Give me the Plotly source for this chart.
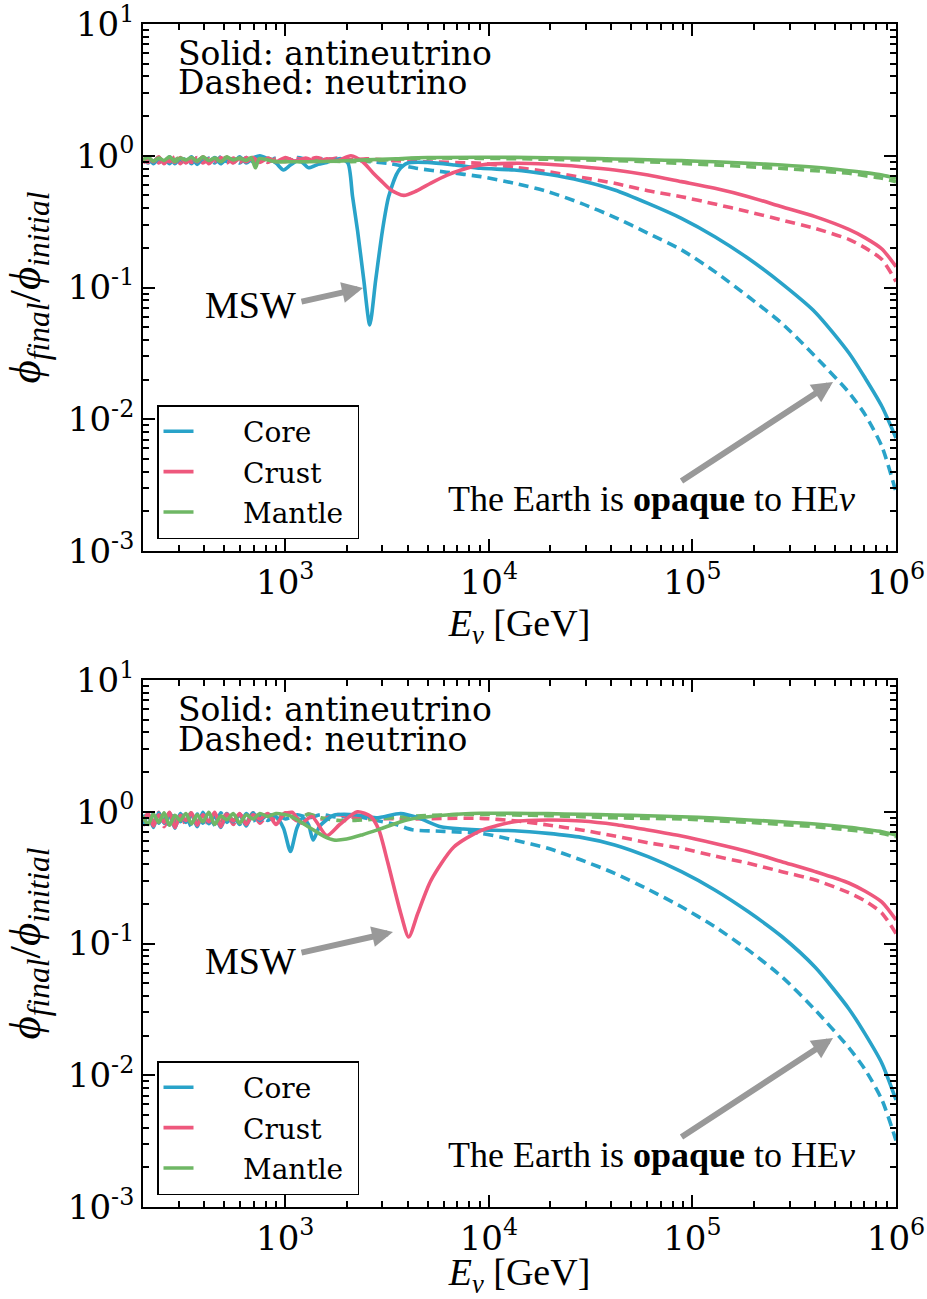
import math
import plotly.graph_objects as go

# ------------------------------------------------------------------
# Data
# ------------------------------------------------------------------
WIGGLE_E = [200, 212, 225, 239, 254, 270, 287, 305, 325, 346, 369, 394,
            421, 450, 482, 517, 555, 597, 643, 694, 750]
TAIL_E = [9140, 13330, 19500, 28440, 41500, 60500, 88300, 128800, 188400, 274800,
          400900, 586100, 706000, 853000, 1000000]

# ---- top panel ----
top_core_anti_E = WIGGLE_E + [820, 900, 980, 1060, 1170, 1300, 1450, 1600, 1870, 2030,
                              2140, 2265, 2430, 2600, 2780, 3000, 3220, 3600, 4000, 5000,
                              6800] + TAIL_E
top_core_anti = [0.90, 0.97, 0.87, 0.96, 0.88, 0.98, 0.87, 0.95, 0.89, 0.98, 0.86, 0.96,
                 0.90, 0.97, 0.87, 0.95, 0.89, 0.98, 0.88, 0.96, 1.00,
                 0.95, 0.88, 0.78, 0.85, 0.93, 0.81, 0.86, 0.89, 0.95, 0.88,
                 0.49, 0.27, 0.114, 0.052, 0.114, 0.27, 0.49, 0.77, 0.88, 0.89,
                 0.85,
                 0.803, 0.78, 0.723, 0.647, 0.55, 0.435, 0.335, 0.243, 0.166, 0.107,
                 0.0650, 0.0320, 0.0205, 0.0125, 0.0072]

top_core_nu_E = WIGGLE_E + [820, 900, 1000, 1150, 1300, 1500, 1800, 2200, 2700, 3300,
                            4480, 6200] + TAIL_E
top_core_nu = [0.95, 0.88, 0.97, 0.89, 0.96, 0.87, 0.97, 0.90, 0.95, 0.87, 0.97, 0.89,
               0.96, 0.88, 0.98, 0.90, 0.95, 0.88, 0.97, 0.90, 0.94,
               0.90, 0.96, 0.92, 0.97, 0.93, 0.95, 0.93, 0.92, 0.90, 0.87,
               0.80, 0.75,
               0.694, 0.618, 0.534, 0.435, 0.341, 0.258, 0.193, 0.132, 0.085, 0.0535,
               0.030, 0.0160, 0.0108, 0.0062, 0.0028]

top_crust_anti_E = WIGGLE_E + [820, 900, 1000, 1120, 1260, 1420, 1600, 1800, 2100, 2400,
                               2700, 2940, 3300, 3820, 4400, 5190, 6200, 7300] + TAIL_E
top_crust_anti = [0.88, 0.96, 0.90, 0.98, 0.87, 0.95, 0.89, 0.97, 0.88, 0.96, 0.90, 0.98,
                  0.87, 0.95, 0.91, 0.97, 0.88, 0.96, 0.90, 0.97, 0.89,
                  0.96, 0.90, 0.97, 0.91, 0.96, 0.90, 0.95, 0.92, 1.00, 0.90,
                  0.74, 0.65, 0.55, 0.50, 0.54, 0.62, 0.71, 0.78,
                  0.851, 0.876, 0.861, 0.826, 0.78, 0.714, 0.636, 0.566, 0.489, 0.41,
                  0.345, 0.276, 0.238, 0.196, 0.144]

top_crust_nu_E = WIGGLE_E + [820, 900, 1000, 1120, 1260, 1420, 1600, 1800, 2100, 2500,
                             3000, 4700] + TAIL_E
top_crust_nu = [0.96, 0.89, 0.97, 0.88, 0.95, 0.90, 0.98, 0.87, 0.96, 0.89, 0.97, 0.88,
                0.95, 0.90, 0.97, 0.88, 0.96, 0.89, 0.97, 0.90, 0.96,
                0.89, 0.95, 0.90, 0.96, 0.92, 0.97, 0.93, 0.96, 0.93, 0.95,
                0.93, 0.90,
                0.876, 0.817, 0.757, 0.686, 0.618, 0.543, 0.489, 0.43, 0.376, 0.325,
                0.281, 0.232, 0.200, 0.163, 0.111]

top_mantle_anti_E = WIGGLE_E[:19] + [680, 713, 745, 820, 900, 1000, 1300, 1800, 2500, 3500,
                                     5000] + TAIL_E
top_mantle_anti = [0.93, 0.97, 0.91, 0.96, 0.92, 0.98, 0.90, 0.96, 0.93, 0.97, 0.91, 0.98,
                   0.92, 0.96, 0.90, 0.97, 0.93, 0.96, 0.92,
                   0.97, 0.81, 0.95, 0.93, 0.90, 0.90, 0.90, 0.91, 0.93, 0.95,
                   0.97,
                   0.975, 0.972, 0.966, 0.956, 0.945, 0.932, 0.918, 0.90, 0.876, 0.85,
                   0.817, 0.77, 0.745, 0.714, 0.674]

top_mantle_nu_E = WIGGLE_E + [820, 900, 1000, 1200, 1500, 2000, 2500, 3500, 5000] + TAIL_E
top_mantle_nu = [0.90, 0.96, 0.92, 0.97, 0.89, 0.95, 0.93, 0.98, 0.90, 0.96, 0.92, 0.97,
                 0.89, 0.96, 0.93, 0.98, 0.90, 0.95, 0.92, 0.97, 0.93,
                 0.96, 0.91, 0.95, 0.90, 0.92, 0.90, 0.91, 0.94, 0.96,
                 0.955, 0.95, 0.94, 0.93, 0.918, 0.90, 0.876, 0.852, 0.826, 0.80,
                 0.77, 0.736, 0.705, 0.674, 0.636]

# ---- bottom panel ----
bot_core_anti_E = WIGGLE_E + [820, 900, 980, 1060, 1140, 1220, 1300, 1370, 1480, 1730,
                              2200, 2800, 3690, 4500, 5800, 7500] + TAIL_E
bot_core_anti = [0.80, 0.95, 0.76, 0.98, 0.82, 0.94, 0.75, 0.97, 0.83, 0.96, 0.77, 0.99,
                 0.81, 0.93, 0.76, 0.97, 0.84, 0.95, 0.78, 0.98, 0.86,
                 0.95, 0.92, 0.75, 0.50, 0.75, 0.90, 0.80, 0.61, 0.78, 0.94,
                 0.95, 0.90, 0.97, 0.90, 0.77, 0.74,
                 0.727, 0.718, 0.685, 0.639, 0.56, 0.456, 0.351, 0.255, 0.174, 0.113,
                 0.0660, 0.0320, 0.0205, 0.0123, 0.0065]

bot_core_nu_E = WIGGLE_E + [820, 900, 1000, 1150, 1300, 1500, 1800, 2200, 2600, 3500,
                            4200, 6000] + TAIL_E
bot_core_nu = [0.95, 0.78, 0.97, 0.82, 0.94, 0.76, 0.98, 0.84, 0.93, 0.77, 0.96, 0.82,
               0.95, 0.79, 0.98, 0.83, 0.94, 0.80, 0.97, 0.85, 0.93,
               0.86, 0.95, 0.88, 0.95, 0.90, 0.95, 0.91, 0.93, 0.88, 0.80,
               0.73, 0.71,
               0.685, 0.61, 0.528, 0.43, 0.341, 0.258, 0.19, 0.134, 0.089, 0.056,
               0.0313, 0.0162, 0.0110, 0.0065, 0.0032]

bot_crust_anti_E = WIGGLE_E + [820, 900, 980, 1080, 1200, 1350, 1600, 1850, 2260, 2630,
                               2880, 3190, 3690, 4040, 4480, 5190, 6730] + TAIL_E
bot_crust_anti = [0.85, 0.97, 0.78, 0.95, 0.83, 0.99, 0.76, 0.94, 0.86, 0.98, 0.79, 0.95,
                  0.84, 0.99, 0.77, 0.96, 0.85, 0.97, 0.80, 0.95, 0.88,
                  0.97, 0.80, 0.95, 0.99, 0.82, 0.92, 0.66, 0.80, 1.00, 0.92,
                  0.73, 0.41, 0.17, 0.112, 0.17, 0.30, 0.54,
                  0.72, 0.84, 0.866, 0.85, 0.80, 0.727, 0.655, 0.575, 0.498, 0.418,
                  0.351, 0.288, 0.249, 0.206, 0.151]

bot_crust_nu_E = WIGGLE_E + [820, 900, 1000, 1150, 1300, 1500, 1800, 2200, 2800, 4000,
                             6000] + TAIL_E
bot_crust_nu = [0.78, 0.96, 0.84, 0.99, 0.77, 0.93, 0.85, 0.98, 0.79, 0.95, 0.83, 0.99,
                0.78, 0.94, 0.86, 0.97, 0.80, 0.96, 0.84, 0.98, 0.82,
                0.95, 0.86, 0.98, 0.85, 0.96, 0.88, 0.95, 0.90, 0.89, 0.88,
                0.89,
                0.891, 0.855, 0.793, 0.727, 0.655, 0.582, 0.528, 0.461, 0.406, 0.351,
                0.303, 0.243, 0.210, 0.170, 0.119]

bot_mantle_anti_E = WIGGLE_E + [820, 900, 1000, 1060, 1200, 1370, 1550, 1730, 2000, 2400,
                                3000, 3990, 6000] + TAIL_E
bot_mantle_anti = [0.92, 0.80, 0.96, 0.83, 0.98, 0.79, 0.94, 0.86, 0.97, 0.81, 0.95, 0.84,
                   0.99, 0.80, 0.93, 0.87, 0.97, 0.82, 0.95, 0.88, 0.97,
                   0.92, 0.97, 0.95, 0.93, 0.83, 0.73, 0.65, 0.61, 0.62, 0.67,
                   0.75, 0.87, 0.94,
                   0.973, 0.972, 0.968, 0.956, 0.945, 0.932, 0.917, 0.895, 0.866, 0.84,
                   0.807, 0.762, 0.735, 0.706, 0.666]

bot_mantle_nu_E = WIGGLE_E + [820, 900, 1000, 1150, 1300, 1500, 1800, 2200, 2800, 4000,
                              6000] + TAIL_E
bot_mantle_nu = [0.83, 0.97, 0.80, 0.95, 0.86, 0.98, 0.81, 0.94, 0.87, 0.99, 0.82, 0.95,
                 0.85, 0.97, 0.80, 0.96, 0.86, 0.93, 0.83, 0.97, 0.88,
                 0.96, 0.85, 0.95, 0.88, 0.96, 0.90, 0.86, 0.86, 0.88, 0.92,
                 0.945,
                 0.955, 0.945, 0.935, 0.917, 0.90, 0.89, 0.881, 0.855, 0.832, 0.80,
                 0.77, 0.727, 0.705, 0.685, 0.647]

LAYERS = ["Core", "Crust", "Mantle"]
COLORS = {"Core": "#29A3C9", "Crust": "#EE587D", "Mantle": "#6FB765"}

X_TICKS = [1e3, 1e4, 1e5, 1e6]
X_TICKTEXT = ["10<sup>3</sup>", "10<sup>4</sup>", "10<sup>5</sup>", "10<sup>6</sup>"]
Y_TICKS = [1e-3, 1e-2, 1e-1, 1e0, 1e1]
Y_TICKTEXT = ["10<sup>-3</sup>", "10<sup>-2</sup>", "10<sup>-1</sup>", "10<sup>0</sup>", "10<sup>1</sup>"]

panels = [
    {"anti": {"Core": (top_core_anti_E, top_core_anti),
              "Crust": (top_crust_anti_E, top_crust_anti),
              "Mantle": (top_mantle_anti_E, top_mantle_anti)},
     "nu": {"Core": (top_core_nu_E, top_core_nu),
            "Crust": (top_crust_nu_E, top_crust_nu),
            "Mantle": (top_mantle_nu_E, top_mantle_nu)}},
    {"anti": {"Core": (bot_core_anti_E, bot_core_anti),
              "Crust": (bot_crust_anti_E, bot_crust_anti),
              "Mantle": (bot_mantle_anti_E, bot_mantle_anti)},
     "nu": {"Core": (bot_core_nu_E, bot_core_nu),
            "Crust": (bot_crust_nu_E, bot_crust_nu),
            "Mantle": (bot_mantle_nu_E, bot_mantle_nu)}},
]

# ------------------------------------------------------------------
# Layout geometry (pixels)
# ------------------------------------------------------------------
W, H = 927, 1299
L, R, T, B = 143, 896, 24, 1207
PANEL_TOP = [24, 680]
PANEL_H = 527


def px(x):
    return (x - L) / (R - L)


def py(y):
    return (B - y) / (B - T)


fig = go.Figure()

SERIF = "DejaVu Serif"
MATH = "Liberation Serif"
LW = 3.6

for i, pan in enumerate(panels):
    xa = "x" if i == 0 else "x2"
    ya = "y" if i == 0 else "y2"
    leg = "legend" if i == 0 else "legend2"
    for layer in LAYERS:
        e, v = pan["nu"][layer]
        fig.add_trace(go.Scatter(x=e, y=v, mode="lines", xaxis=xa, yaxis=ya,
                                 line=dict(color=COLORS[layer], width=LW, dash="10px,6px",
                                           shape="spline", smoothing=0.7),
                                 showlegend=False, hoverinfo="skip"))
    for layer in LAYERS:
        e, v = pan["anti"][layer]
        fig.add_trace(go.Scatter(x=e, y=v, mode="lines", xaxis=xa, yaxis=ya,
                                 name="\u00a0" * 5 + layer + "\u00a0", legend=leg,
                                 legendgroup=f"{leg}-{layer}",
                                 line=dict(color=COLORS[layer], width=LW,
                                           shape="spline", smoothing=0.7),
                                 showlegend=True, hoverinfo="skip"))

minor_x = [m * 10 ** d for d in range(2, 6) for m in range(2, 10) if 200 <= m * 10 ** d <= 1e6]
minor_y = [m * 10.0 ** d for d in range(-3, 1) for m in range(2, 10)]

axis_common = dict(showline=True, linecolor="black", linewidth=1.8, mirror="allticks",
                   ticks="inside", ticklen=12, tickwidth=1.8, tickcolor="black",
                   showgrid=False, zeroline=False, automargin=False,
                   ticklabeloverflow="allow",
                   tickfont=dict(family=SERIF, size=34, color="black"))

for i in range(2):
    top_px = PANEL_TOP[i]
    dom = [py(top_px + PANEL_H), py(top_px)]
    xkey = "xaxis" if i == 0 else "xaxis2"
    ykey = "yaxis" if i == 0 else "yaxis2"
    fig.layout[xkey] = dict(type="log", range=[math.log10(200), 6.0],
                            tickvals=X_TICKS, ticktext=X_TICKTEXT,
                            minor=dict(tickvals=minor_x, ticks="inside", ticklen=6,
                                       tickwidth=1.5, tickcolor="black", showgrid=False),
                            title=dict(text="<i>E</i><sub><i>ν</i></sub> [GeV]",
                                       font=dict(family=MATH, size=38, color="black"),
                                       standoff=2),
                            anchor="y" if i == 0 else "y2",
                            domain=[0, 1], **axis_common)
    fig.layout[ykey] = dict(type="log", range=[-3, 1], domain=dom,
                            tickvals=Y_TICKS, ticktext=Y_TICKTEXT,
                            minor=dict(tickvals=minor_y, ticks="inside", ticklen=6,
                                       tickwidth=1.5, tickcolor="black", showgrid=False),
                            title=dict(text="<i>ϕ</i><sub><i>final</i></sub>/<i>ϕ</i><sub><i>initial</i></sub>",
                                       font=dict(family="Liberation Serif, DejaVu Serif", size=45,
                                                 color="black"),
                                       standoff=14),
                            anchor="x" if i == 0 else "x2", **axis_common)

legend_common = dict(bgcolor="white", bordercolor="black", borderwidth=1.5,
                     font=dict(family=SERIF, size=28, color="black"),
                     xanchor="left", yanchor="top", traceorder="grouped",
                     tracegroupgap=1, itemwidth=30)
fig.layout.legend = dict(x=px(157), y=py(405), **legend_common)
fig.layout.legend2 = dict(x=px(157), y=py(1061), **legend_common)

ann = []
for i in range(2):
    off = 656 * i
    ann.append(dict(text="Solid: antineutrino", x=px(176), y=py(53 + off), xref="paper", yref="paper",
                    xanchor="left", yanchor="middle", showarrow=False,
                    font=dict(family=SERIF, size=33, color="black")))
    ann.append(dict(text="Dashed: neutrino", x=px(176), y=py(83 + off), xref="paper", yref="paper",
                    xanchor="left", yanchor="middle", showarrow=False,
                    font=dict(family=SERIF, size=33, color="black")))
    ann.append(dict(text="The Earth is <b>opaque</b> to HE<i>ν</i>", x=px(651), y=py(499 + off),
                    xref="paper", yref="paper", xanchor="center", yanchor="middle", showarrow=False,
                    font=dict(family=MATH, size=36, color="black")))
    ann.append(dict(text="", x=px(833), y=py(382 + off), xref="paper", yref="paper",
                    ax=-153, ay=100, showarrow=True, arrowcolor="#999999", arrowwidth=6,
                    arrowhead=2, arrowsize=0.7, standoff=0, startstandoff=0))

# MSW annotations
ann.append(dict(text="MSW", x=px(250), y=py(305), xref="paper", yref="paper",
                xanchor="center", yanchor="middle", showarrow=False,
                font=dict(family=MATH, size=38, color="black")))
ann.append(dict(text="", x=px(363), y=py(288), xref="paper", yref="paper",
                ax=-63, ay=14, showarrow=True, arrowcolor="#999999", arrowwidth=6,
                arrowhead=2, arrowsize=0.7))
ann.append(dict(text="MSW", x=px(250), y=py(961), xref="paper", yref="paper",
                xanchor="center", yanchor="middle", showarrow=False,
                font=dict(family=MATH, size=38, color="black")))
ann.append(dict(text="", x=px(393), y=py(932), xref="paper", yref="paper",
                ax=-93, ay=21, showarrow=True, arrowcolor="#999999", arrowwidth=6,
                arrowhead=2, arrowsize=0.7))

fig.update_layout(width=W, height=H, margin=dict(l=L, r=W - R, t=T, b=H - B),
                  paper_bgcolor="white", plot_bgcolor="white", annotations=ann)

fig.write_html("out.html", config={"displayModeBar": False},
               post_script="document.body.style.margin='0';document.body.style.overflow='hidden';")
